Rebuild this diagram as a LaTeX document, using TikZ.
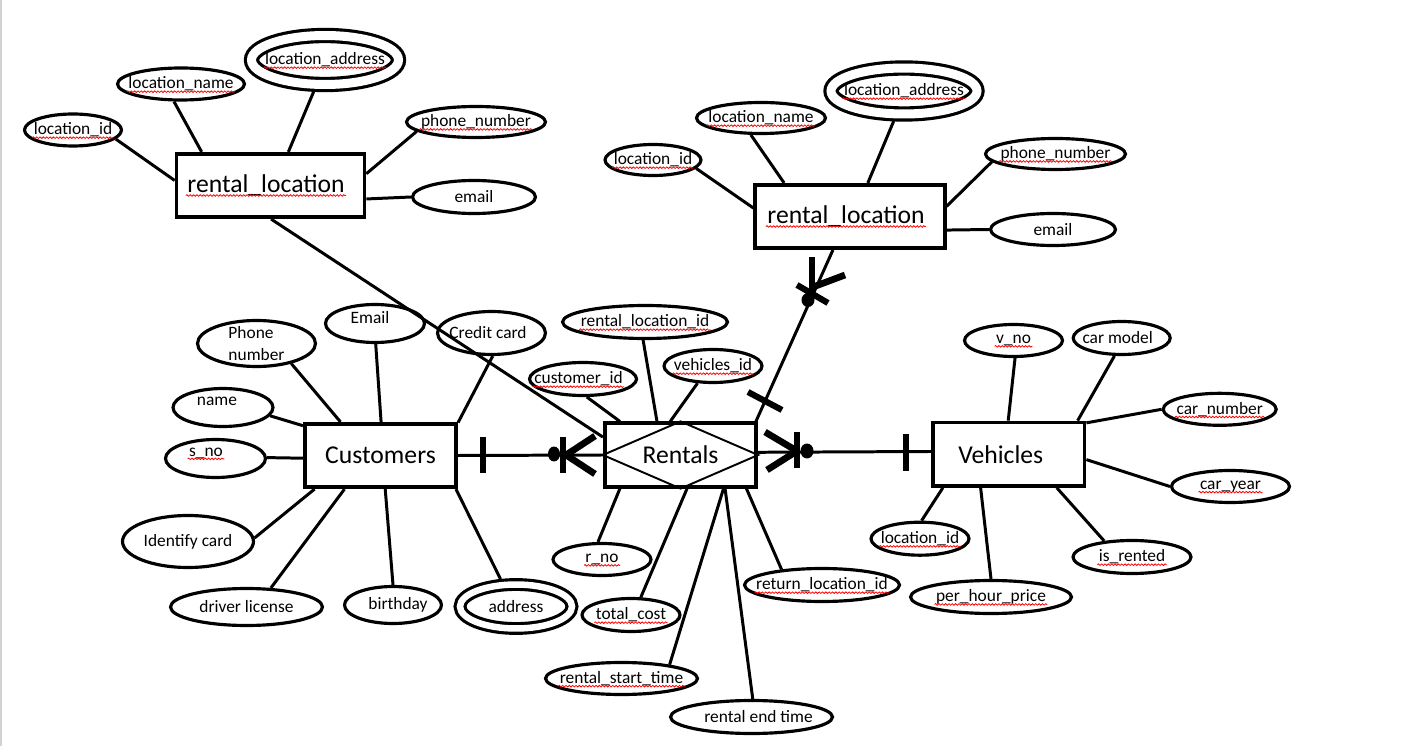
\documentclass[tikz,border=0pt]{standalone}
\usepackage{fontspec}
\setmainfont{Carlito}
\usetikzlibrary{shapes.geometric, decorations.pathmorphing}

\begin{document}
\begin{tikzpicture}[x=0.02cm, y=-0.02cm, line width=1.7pt,
        entity/.style={rectangle, draw, line width=2.1pt, minimum width=3.03cm, minimum height=1.27cm, font=\fontsize{14.6}{17}\selectfont},
        attr/.style={ellipse, draw, line width=1.8pt, inner sep=0pt, minimum width=1.96cm, minimum height=0.66cm},
        multi/.style={attr, double, double distance=0.18cm},
        every label/.style={font=\fontsize{9.9}{12}\selectfont},
        big/.style={font=\fontsize{14.6}{17}\selectfont},
        sq/.style={inner xsep=0pt, append after command={([yshift=-1.6pt]\tikzlastnode.base west) edge[draw=red, line width=0.45pt, decorate, decoration={snake, amplitude=0.45pt, segment length=1.9pt}] ([yshift=-1.6pt]\tikzlastnode.base east)}},
        bar/.style={line width=3.5pt},
        toe/.style={line width=3.8pt}]
            \useasboundingbox (0,0) rectangle (1410,746);
            \draw[line width=1pt, gray!35] (1,0) -- (1,746);

            \node[entity, minimum width=3.76cm, label={[sq, big, xshift=-0.09cm]center:rental\_location}] (RL1) at (270.5,185.5) {};
            \node[attr, minimum width=1.94cm, minimum height=0.64cm, label={[sq]center:location\_id}] (RL1_id) at (73,130) {};
            \node[attr, minimum width=2.54cm, minimum height=0.64cm, label={[sq]center:location\_name}] (RL1_name) at (181,84) {};
            \node[multi, minimum width=2.94cm, minimum height=0.98cm, label={[sq]center:location\_address}] (RL1_addr) at (325,60) {};
            \node[attr, minimum width=2.78cm, minimum height=0.62cm, label={[sq]center:phone\_number}] (RL1_phone) at (476,122) {};
            \node[attr, minimum width=2.46cm, label={center:email}] (RL1_email) at (474,197) {};

            \node[entity, minimum width=3.79cm, label={[sq, big, xshift=-0.08cm]center:rental\_location}] (RL2) at (850,216.5) {};
            \node[attr, minimum width=1.92cm, minimum height=0.62cm, label={[sq]center:location\_id}] (RL2_id) at (653,160) {};
            \node[attr, minimum width=2.58cm, minimum height=0.62cm, label={[sq]center:location\_name}] (RL2_name) at (761,118) {};
            \node[multi, minimum width=2.92cm, minimum height=0.92cm, label={[sq]center:location\_address}] (RL2_addr) at (904,91) {};
            \node[attr, minimum width=2.8cm, minimum height=0.62cm, label={[sq]center:phone\_number}] (RL2_phone) at (1055.5,154) {};
            \node[attr, minimum width=2.5cm, minimum height=0.64cm, label={center:email}] (RL2_email) at (1053,229.5) {};

            \node[entity] (Cust) at (380.5,455.5) {Customers};
            \node[attr, minimum width=2.36cm, minimum height=0.92cm, label={[align=left]center:Phone\\number}] (Cust_phone) at (256.5,343.5) {};
            \node[attr, minimum width=1.98cm, minimum height=0.76cm, label={[xshift=-0.1cm, yshift=0.11cm]center:Email}] (Cust_email) at (375,323.5) {};
            \node[attr, minimum width=2.16cm, minimum height=0.86cm, label={[xshift=-0.07cm]center:Credit card}] (Cust_credit) at (491.5,333) {};
            \node[attr, minimum width=2cm, minimum height=0.76cm, label={[xshift=-0.12cm, yshift=0.13cm]center:name}] (Cust_name) at (223,407.5) {};
            \node[attr, minimum width=2cm, minimum height=0.76cm, label={[sq, xshift=-0.19cm, yshift=0.11cm]center:s\_no}] (Cust_sno) at (215.5,458.5) {};
            \node[attr, minimum width=2.62cm, minimum height=1.04cm, label={center:Identify card}] (Cust_idcard) at (188,541.5) {};
            \node[attr, minimum width=3.04cm, minimum height=0.74cm, label={center:driver license}] (Cust_driver) at (246.5,607) {};
            \node[attr, minimum width=1.94cm, minimum height=0.74cm, label={[xshift=0.1cm]center:birthday}] (Cust_birth) at (393,605) {};
            \node[multi, double distance=0.13cm, minimum width=2.24cm, minimum height=0.88cm, label={center:address}] (Cust_addr) at (516,606.5) {};

            \node[entity] (Rent) at (680.5,455) {Rentals};
            \node[attr, minimum width=3.3cm, label={[sq]center:rental\_location\_id}] (Rent_rlid) at (645,322) {};
            \node[attr, minimum width=2.14cm, label={[sq, xshift=-0.09cm]center:customer\_id}] (Rent_custid) at (583,379) {};
            \node[attr, label={[sq]center:vehicles\_id}] (Rent_vehid) at (713,366) {};
            \node[attr, minimum height=0.64cm, label={[sq]center:r\_no}] (Rent_rno) at (602,559.5) {};
            \node[attr, label={[sq]center:total\_cost}] (Rent_cost) at (631,615) {};
            \node[attr, minimum width=3.04cm, minimum height=0.64cm, label={[sq]center:rental\_start\_time}] (Rent_start) at (621.5,678.5) {};
            \node[attr, minimum width=3.24cm, label={[xshift=0.14cm]center:rental end time}] (Rent_end) at (751.5,717) {};
            \node[attr, minimum width=3.1cm, label={[sq]center:return\_location\_id}] (Rent_retloc) at (822,585) {};

            \node[entity, label={[big, xshift=-0.16cm]center:Vehicles}] (Veh) at (1008.8,454.2) {};
            \node[attr, minimum height=0.64cm, label={[sq]center:v\_no}] (Veh_vno) at (1013.5,340.5) {};
            \node[attr, minimum width=1.94cm, label={[xshift=-0.08cm]center:car model}] (Veh_model) at (1121.7,338) {};
            \node[attr, minimum width=2.26cm, minimum height=0.64cm, label={[sq]center:car\_number}] (Veh_cnum) at (1219.7,409.3) {};
            \node[attr, minimum width=2.36cm, minimum height=0.64cm, label={[sq]center:car\_year}] (Veh_cyear) at (1230.5,486.5) {};
            \node[attr, minimum width=2.36cm, label={[sq]center:is\_rented}] (Veh_rented) at (1132,557) {};
            \node[attr, minimum width=3.22cm, label={[sq]center:per\_hour\_price}] (Veh_price) at (991,597) {};
            \node[attr, label={[sq]center:location\_id}] (Veh_lid) at (920,538.7) {};

            \draw[line width=1.1pt] (Rent.west) -- (Rent.north) -- (Rent.east) -- (Rent.south) -- cycle;

            \draw (RL1_id.348) -- (RL1.177);
            \draw (RL1_name.248) -- (RL1.154);
            \draw[shorten <=0.12cm] (RL1_addr.251) -- (RL1.62);
            \draw (RL1_phone.189) -- (RL1.7);
            \draw (RL1_email.180) -- (RL1.352);

            \draw (RL2_id.349) -- (RL2.175);
            \draw (RL2_name.239) -- (RL2.153);
            \draw[shorten <=0.12cm] (RL2_addr.252) -- (RL2.62);
            \draw (RL2_phone.187) -- (RL2.6);
            \draw (RL2_email.180) -- (RL2.352);

            \draw (Cust_phone.330) -- (Cust.140);
            \draw (Cust_email.272) -- (Cust.89);
            \draw (Cust_credit.273) -- (Cust.23);
            \draw (Cust_name.350) -- (Cust.159);
            \draw (Cust_sno.1) -- (Cust.182);
            \draw (Cust_idcard.3) -- (Cust.207);
            \draw (Cust_driver.38) -- (Cust.223);
            \draw (Cust_birth.90) -- (Cust.278);
            \draw[shorten <=0.1cm] (Cust_addr.120) -- (Cust.336);

            \draw (Rent_rlid.264) -- (Rent.125);
            \draw (Rent_custid.282) -- (Rent.151);
            \draw (Rent_vehid.228) -- (Rent.107);
            \draw (Rent_rno.103) -- (Rent.209);
            \draw (Rent_cost.61) -- (Rent.281);
            \draw (Rent_start.16) -- (Rent.322);
            \draw (Rent_end.86) -- (Rent.323);
            \draw (Rent_retloc.159) -- (Rent.333);

            \draw (Veh_vno.275) -- (Veh.91);
            \draw (Veh_model.248) -- (Veh.26);
            \draw (Veh_cnum.180) -- (Veh.22);
            \draw (Veh_cyear.180) -- (Veh.356);
            \draw (Veh_rented.150) -- (Veh.325);
            \draw (Veh_price.90) -- (Veh.230);
            \draw (Veh_lid.85) -- (Veh.207);

            \draw (RL1.271) -- (Rent.167);
            \draw (Cust.east) -- (Rent.west);
            \draw (Rent.2) -- (Veh.178);
            \draw (Rent.24) -- (RL2.243);

            \draw[bar] (483,437) -- (483,473);
            \fill (554,454) ellipse [x radius=0.12cm, y radius=0.15cm];
            \draw[bar] (563,437) -- (563,473);
            \draw[toe] (566,455) -- (595,436);
            \draw[toe] (566,455) -- (595,474);

            \draw[toe] (765,432) -- (797,451);
            \draw[toe] (767,470) -- (797,451);
            \draw[bar] (797,432) -- (797,468);
            \fill (807,451) ellipse [x radius=0.13cm, y radius=0.15cm];
            \draw[bar] (906,434) -- (906,471);

            \draw[bar] (748,392) -- (782,410);
            \fill (808,300) ellipse [x radius=0.13cm, y radius=0.14cm];
            \draw[toe] (812,257) -- (812,293);
            \draw[toe] (813,287) -- (845,275);
            \draw[bar] (797,285) -- (828,303);
        \end{tikzpicture}
\end{document}
